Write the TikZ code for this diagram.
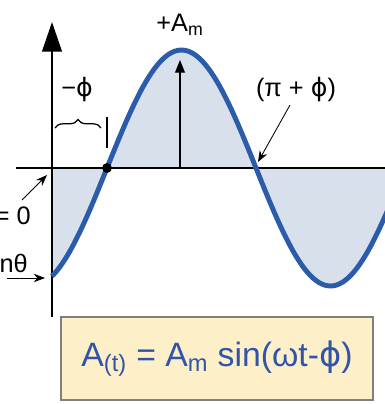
\documentclass[tikz,border=0pt]{standalone}
\usepackage{fontspec}
\setmainfont{Liberation Sans}
\newfontfamily\phifont{DejaVu Sans}
\newcommand{\ph}{{\phifont ϕ}}
\usetikzlibrary{arrows.meta, decorations.pathreplacing}
\definecolor{waveblue}{RGB}{42,92,170}
\definecolor{wavefill}{RGB}{216,224,236}
\definecolor{boxfill}{RGB}{253,239,200}
\definecolor{eqblue}{RGB}{48,84,170}

\begin{document}
\begin{tikzpicture}[x=0.025cm, y=0.025cm, font=\fontsize{18}{21}\selectfont,
    axis/.style={line width=1.2pt},
    pointer/.style={-{Stealth[length=8pt,width=6pt]}, line width=0.6pt},
    lbl/.style={inner sep=0pt}]
    \useasboundingbox (0,0) rectangle (385,404);
    \clip (0,0) rectangle (385,404);

    % shaded area under the wave
    \fill[wavefill] (52,236) -- plot[domain=52:390, samples=120] (\x, {236+118*sin((\x-107)/149*180)}) -- (390,236) -- cycle;

    % axes
    \coordinate (xl) at (16,236);
    \coordinate (xr) at (385,236);
    \coordinate (yb) at (52,87);
    \coordinate (yt) at (52,382);
    \draw[axis] (xl) -- (xr);
    \draw[axis, -{Triangle[length=21pt,width=14pt]}] (yb) -- (yt);

    % the wave
    \draw[waveblue, line width=3.5pt] plot[domain=52:390, samples=120] (\x, {236+118*sin((\x-107)/149*180)});

    % peak amplitude
    \coordinate (pkb) at (180,236);
    \coordinate (pkt) at (180,344);
    \draw[line width=0.9pt, -{Triangle[length=9pt,width=7pt]}] (pkb) -- (pkt);
    \node[lbl] (am) at (180,379) {+A\textsubscript{m}};

    % phase shift
    \node[circle, fill, inner sep=0pt, minimum size=7pt] (zero) at (107,236) {};
    \node[lbl] (phi) at (77,314) {−\ph};
    \coordinate (brl) at (55,276);
    \coordinate (brr) at (101,276);
    \draw[decorate, decoration={brace, amplitude=6pt}, line width=0.9pt] (brl) -- (brr);
    \coordinate (bart) at (107,287);
    \coordinate (barb) at (107,256);
    \draw[line width=0.9pt] (bart) -- (barb);

    \node[lbl] (pphi) at (296,314) {(π + \ph)};
    \coordinate (ps) at (290,299);
    \coordinate (cross) at (258,242);
    \draw[pointer] (ps) -- (cross);

    % left side labels
    \node[lbl, anchor=east] (tz) at (31,188) {= 0};
    \coordinate (tzs) at (22,204);
    \coordinate (tze) at (47,229);
    \draw[pointer] (tzs) -- (tze);
    \node[lbl, anchor=east] (sn) at (28,141) {nθ};
    \coordinate (sns) at (7,126);
    \coordinate (sne) at (45,126);
    \draw[pointer] (sns) -- (sne);

    % equation box
    \node[draw=gray, fill=boxfill, line width=1pt, minimum width=7.8cm, minimum height=2.07cm,
        text=eqblue, font=\fontsize{24}{28}\selectfont] (eq) at (217,45.5)
        {A\textsubscript{(t)} = A\textsubscript{m} sin(ωt-\ph)};
\end{tikzpicture}
\end{document}
